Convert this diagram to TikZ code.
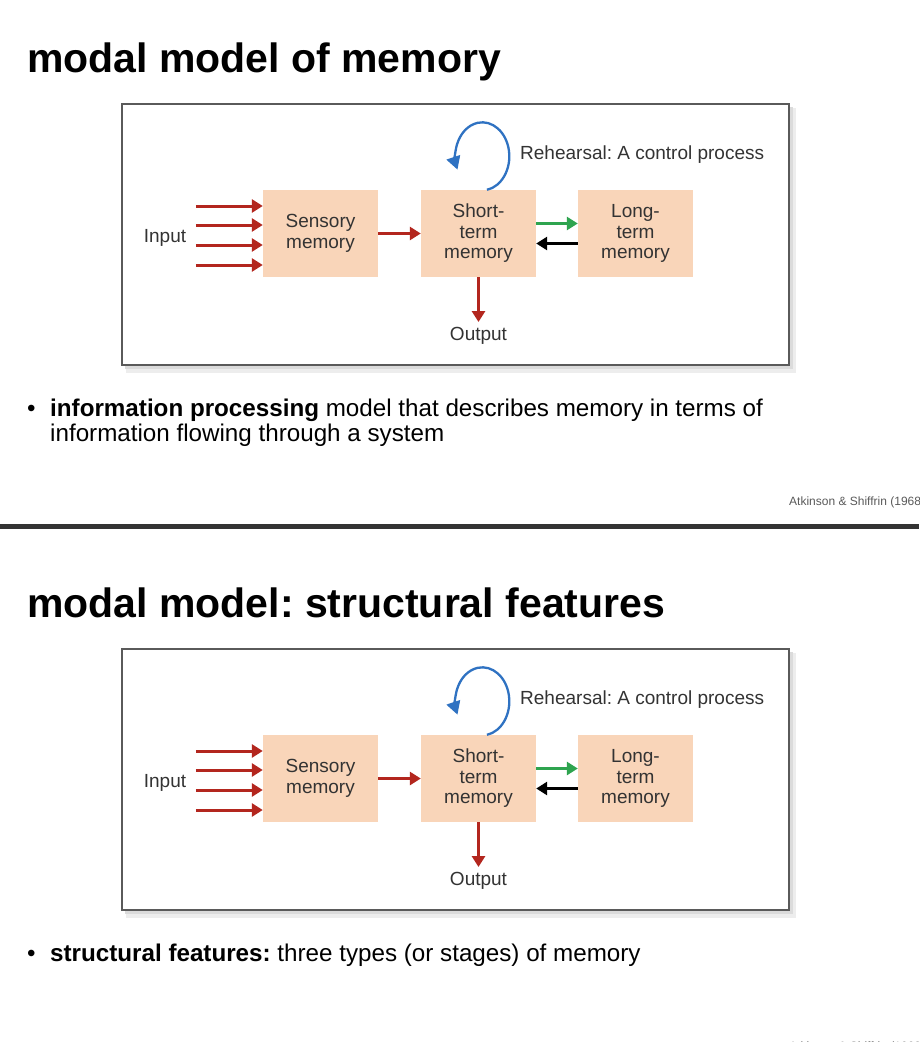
\documentclass[tikz,border=0pt]{standalone}
\usepackage{fontspec}
\setmainfont{Liberation Sans}
\usetikzlibrary{arrows.meta}
\frenchspacing

\definecolor{peach}{HTML}{F9D5B9}
\definecolor{flowred}{HTML}{B3261E}
\definecolor{flowgreen}{HTML}{2EA44F}
\definecolor{loopblue}{HTML}{2F72C2}
\definecolor{labelgray}{HTML}{333333}
\definecolor{framegray}{HTML}{5A5A5A}
\definecolor{rulegray}{HTML}{333333}

\tikzset{
  memblock/.style={fill=peach, minimum width=115pt, minimum height=87pt,
    inner sep=0pt, align=center, text=labelgray,
    font=\fontsize{19}{20.5}\selectfont},
  memlabel/.style={text=labelgray, font=\fontsize{19}{20.5}\selectfont, inner sep=2pt},
  flow/.style={line width=3pt, -{Triangle[length=11pt,width=13pt]}},
  slidetitle/.style={anchor=base west, inner sep=0pt, font=\bfseries\fontsize{41}{49}\selectfont},
  bullettext/.style={anchor=base west, inner sep=0pt, align=left,
    font=\fontsize{24.2}{25}\selectfont},
  citation/.style={anchor=base west, inner sep=0pt, text=black!65,
    font=\fontsize{12}{14}\selectfont}
}

\begin{document}
\begin{tikzpicture}[x=1pt,y=1pt]
  \useasboundingbox (0,0) rectangle (919,-1042);
  \clip (0,0) rectangle (919,-1042);

  %titles and bullets
  \node[slidetitle] (titlea) at (27,-72) {modal model of memory};
  \node[slidetitle] (titleb) at (27,-617) {modal model: structural features};

  \node[bullettext] (dota) at (27,-416) {\textbullet};
  \node[bullettext] (texta) at (50,-441) {\textbf{information processing} model that describes memory in terms of\\information flowing through a system};
  \node[bullettext] (dotb) at (27,-961) {\textbullet};
  \node[bullettext] (textb) at (50,-961) {\textbf{structural features:} three types (or stages) of memory};

  \node[citation] (cita) at (789,-505) {Atkinson \& Shiffrin (1968)};
  \node[citation] (citb) at (789,-1050) {Atkinson \& Shiffrin (1968)};

  %separator
  \fill[rulegray] (0,-524) rectangle (919,-529);

  %both diagrams
  \foreach \p/\off in {a/0, b/545} {
    \begin{scope}[yshift=-\off pt]
      % frame with shadow
      \fill[black!7] (126,-108) rectangle (796,-373);
      \fill[black!14] (125,-107) rectangle (793,-369);
      \draw[framegray, line width=1.5pt, fill=white] (122,-104) rectangle (789,-365);

      % stores
      \node[memblock] (sens\p) at (320.5,-233.5) {Sensory\\memory};
      \node[memblock] (stm\p) at (478.5,-233.5) {Short-\\term\\memory};
      \node[memblock] (ltm\p) at (635.5,-233.5) {Long-\\term\\memory};

      \node[memlabel] (in\p) at (165,-238) {Input};
      \node[memlabel, anchor=north, inner sep=5pt] (out\p) at (478.5,-322) {Output};
      \node[memlabel, anchor=west] (reh\p) at (518,-155) {Rehearsal: A control process};

      % input arrows
      \foreach \dy in {27.5,8.5,-11.5,-31.5}
        \draw[flow, flowred] ([shift={(-67pt,\dy pt)}]sens\p.west) -- ([yshift=\dy pt]sens\p.west);

      \draw[flow, flowred] (sens\p.east) -- (stm\p.west);
      \draw[flow, flowgreen] ([yshift=10pt]stm\p.east) -- ([yshift=10pt]ltm\p.west);
      \draw[flow, black] ([yshift=-10pt]ltm\p.west) -- ([yshift=-10pt]stm\p.east);
      \draw[flow, flowred] (stm\p.south) -- (out\p.north);

      % rehearsal loop
      \draw[loopblue, line width=2.3pt, -{Triangle[length=13pt,width=14pt]}]
        ([xshift=8.5pt]stm\p.north) arc[start angle=-80, end angle=203, x radius=27pt, y radius=34pt];
    \end{scope}
  }
\end{tikzpicture}
\end{document}
